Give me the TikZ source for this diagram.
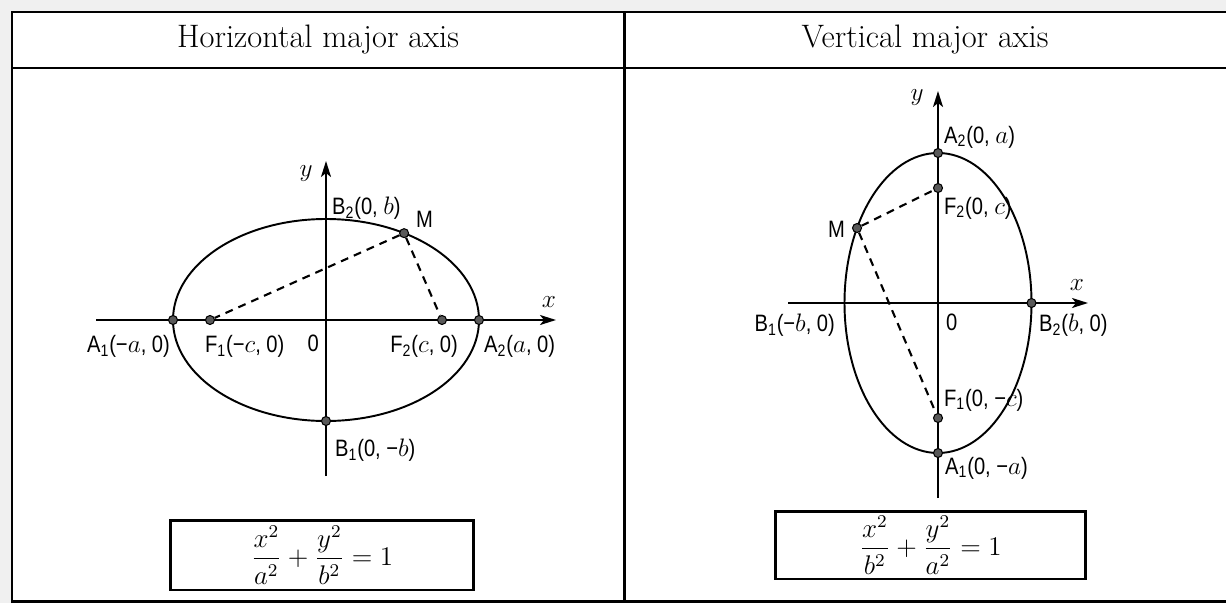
\documentclass[tikz,border=0pt]{standalone}
\usepackage{amsmath}
\usepackage{graphicx}
\usepackage{fontspec}
\newfontfamily\lblfont[FakeStretch=0.85]{Liberation Sans}
\usetikzlibrary{arrows.meta,positioning,calc}

\newcommand{\bigeq}[1]{\scalebox{1.28}{\large$\displaystyle #1$}}

\begin{document}
\begin{tikzpicture}[
        x=0.02cm, y=0.02cm,
        >={Stealth[length=0.32cm,width=0.2cm,inset=0.08cm]},
        rule/.style={line width=1.7pt},
        axis/.style={->, line width=1.2pt},
        curve/.style={line width=1.1pt},
        focal/.style={line width=1.2pt, dash pattern=on 4.5pt off 3.5pt},
        ptdot/.style={circle, draw=black, fill=black!65, line width=0.6pt,
            inner sep=0pt, minimum size=0.18cm},
        lbl/.style={font=\lblfont\fontsize{13.5}{15}\selectfont, inner sep=1pt},
        axlbl/.style={font=\fontsize{15}{17}\selectfont, inner sep=1pt},
        head/.style={font=\fontsize{18.5}{21}\selectfont},
        eqbox/.style={draw, line width=1.7pt, inner sep=0pt}
    ]

    \useasboundingbox (0,0) rectangle (1226,603);
    \fill[gray!12] (0,0) rectangle (1226,603);
    \fill[white] (12,0) rectangle (1226,591);

    % table
    \draw[rule] (12,0) -- (12,591) -- (1226,591);
    \draw[rule] (12,535) -- (1226,535);
    \draw[rule] (624,591) -- (624,2);
    \draw[rule] (12,2) -- (1226,2);

    \node[head] (hhead) at (318,563) {Horizontal major axis};
    \node[head] (vhead) at (925,563) {Vertical major axis};

    % horizontal major axis
    \coordinate (O1) at (326,283);
    \coordinate (hxs) at (96,283);
    \coordinate (hxe) at (556,283);
    \coordinate (hys) at (326,127);
    \coordinate (hye) at (326,442);
    \draw[axis] (hxs) -- (hxe);
    \draw[axis] (hys) -- (hye);
    \draw[curve] (O1) ellipse [x radius=153, y radius=101];

    \node[ptdot] (hA1) at ($(O1)+(-153,0)$) {};
    \node[ptdot] (hA2) at ($(O1)+(153,0)$) {};
    \node[ptdot] (hF1) at ($(O1)+(-116,0)$) {};
    \node[ptdot] (hF2) at ($(O1)+(116,0)$) {};
    \node[ptdot] (hB1) at ($(O1)+(0,-101)$) {};
    \node[ptdot] (hM) at ($(O1)+(59.3:153 and 101)$) {};
    \draw[focal] (hM) -- (hF1);
    \draw[focal] (hM) -- (hF2);

    \node[axlbl] (hy) at (306,429) {$y$};
    \node[axlbl] (hx) at (549,301) {$x$};
    \node[lbl, anchor=west] (hB2l) at (330,395) {B\textsubscript{2}(0, $b$)};
    \node[lbl, anchor=west] (hMl) at (414,384) {M};
    \node[lbl, anchor=north east] (hA1l) at (172,270) {A\textsubscript{1}(−$a$, 0)};
    \node[lbl, anchor=north west] (hF1l) at (203,270) {F\textsubscript{1}(−$c$, 0)};
    \node[lbl, anchor=north east] (hOl) at (321,270) {0};
    \node[lbl, anchor=north east] (hF2l) at (460,270) {F\textsubscript{2}($c$, 0)};
    \node[lbl, anchor=north west] (hA2l) at (482,270) {A\textsubscript{2}($a$, 0)};
    \node[lbl, anchor=north west] (hB1l) at (333,166) {B\textsubscript{1}(0, −$b$)};

    \node[eqbox, minimum width=6.08cm, minimum height=1.4cm] (heq) at (322,48)
        {\bigeq{\frac{x^2}{a^2}+\frac{y^2}{b^2}=1}};

    % vertical major axis
    \coordinate (O2) at (938,300);
    \coordinate (vxs) at (788,300);
    \coordinate (vxe) at (1088,300);
    \coordinate (vys) at (938,105);
    \coordinate (vye) at (938,512);
    \draw[axis] (vxs) -- (vxe);
    \draw[axis] (vys) -- (vye);
    \draw[curve] (O2) ellipse [x radius=93.5, y radius=150];

    \node[ptdot] (vA2) at ($(O2)+(0,150)$) {};
    \node[ptdot] (vA1) at ($(O2)+(0,-150)$) {};
    \node[ptdot] (vF2) at ($(O2)+(0,115)$) {};
    \node[ptdot] (vF1) at ($(O2)+(0,-115)$) {};
    \node[ptdot] (vB2) at ($(O2)+(93.5,0)$) {};
    \node[ptdot] (vM) at ($(O2)+(150:93.5 and 150)$) {};
    \draw[focal] (vM) -- (vF2);
    \draw[focal] (vM) -- (vF1);

    \node[axlbl] (vy) at (917,505) {$y$};
    \node[axlbl] (vx) at (1077,318) {$x$};
    \node[lbl, anchor=west] (vA2l) at (942,466) {A\textsubscript{2}(0, $a$)};
    \node[lbl, anchor=west] (vF2l) at (942,395) {F\textsubscript{2}(0, $c$)};
    \node[lbl, anchor=east] (vMl) at (847,374) {M};
    \node[lbl, anchor=north east] (vB1l) at (837,291) {B\textsubscript{1}(−$b$, 0)};
    \node[lbl, anchor=north west] (vOl) at (944,291) {0};
    \node[lbl, anchor=north west] (vB2l) at (1037,291) {B\textsubscript{2}($b$, 0)};
    \node[lbl, anchor=west] (vF1l) at (942,203) {F\textsubscript{1}(0, −$c$)};
    \node[lbl, anchor=west] (vA1l) at (943,135) {A\textsubscript{1}(0, −$a$)};

    \node[eqbox, minimum width=6.22cm, minimum height=1.36cm] (veq) at (930.5,58)
        {\bigeq{\frac{x^2}{b^2}+\frac{y^2}{a^2}=1}};

\end{tikzpicture}
\end{document}
